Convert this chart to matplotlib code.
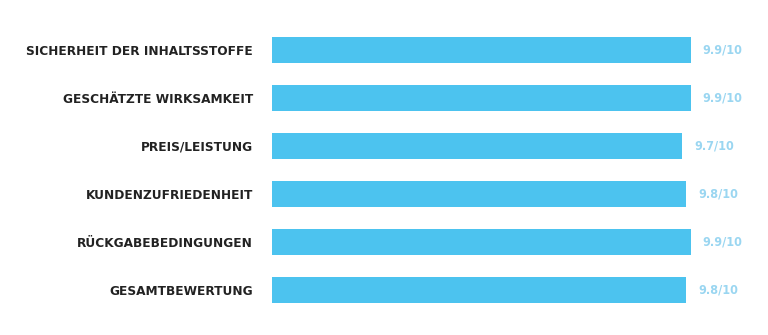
import matplotlib
matplotlib.use("Agg")
import matplotlib.pyplot as plt

categories = ["SICHERHEIT DER INHALTSSTOFFE", "GESCHÄTZTE WIRKSAMKEIT", "PREIS/LEISTUNG",
              "KUNDENZUFRIEDENHEIT", "RÜCKGABEBEDINGUNGEN", "GESAMTBEWERTUNG"]
scores = [9.9, 9.9, 9.7, 9.8, 9.9, 9.8]
score_labels = ["9.9/10", "9.9/10", "9.7/10", "9.8/10", "9.9/10", "9.8/10"]

bar_color = "#4cc3ef"
value_color = "#9ad6f1"

fig = plt.figure(figsize=(7.68, 3.35), dpi=100)
ax = fig.add_axes([272 / 768, 21 / 335, 465 / 768, 288 / 335])

y = list(range(len(categories)))
ax.barh(y, scores, height=0.54, color=bar_color, edgecolor="none")
for yi, s, lab in zip(y, scores, score_labels):
    ax.text(s + 0.28, yi, lab, va="center", ha="left", fontsize=9,
            color=value_color, fontweight="bold", fontstretch="condensed")

ax.set_xlim(0, 11)
ax.set_ylim(len(categories) - 0.5, -0.5)
ax.set_yticks(y)
ax.set_yticklabels(categories, fontsize=9.7, fontweight="bold", color="#222222",
                   fontstretch="condensed")
ax.tick_params(axis="y", length=0, pad=13.5)
ax.set_xticks([])
for sp in ax.spines.values():
    sp.set_visible(False)

fig.savefig("out.png", dpi=100)
